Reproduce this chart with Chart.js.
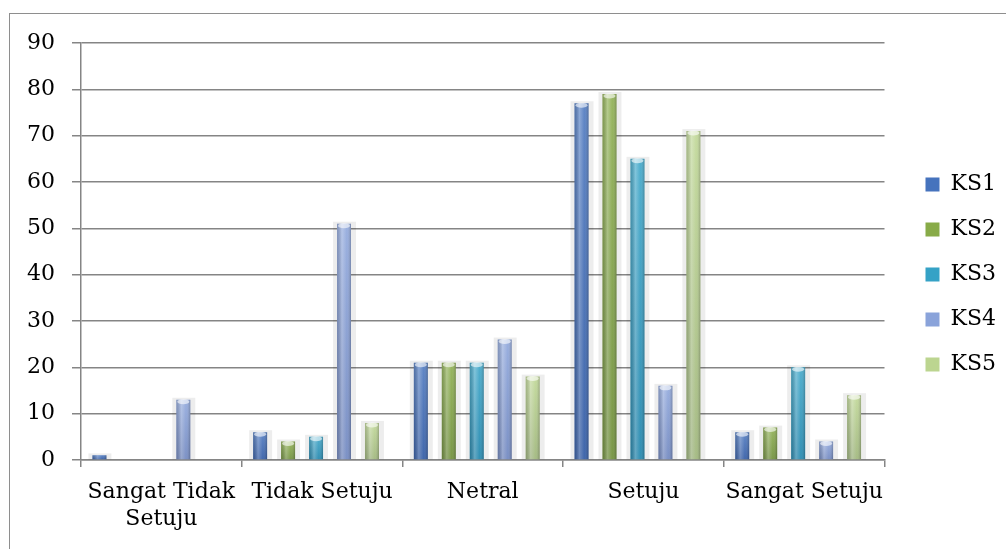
<!DOCTYPE html>
<html>
<head>
<meta charset="utf-8">
<script src="https://cdn.jsdelivr.net/npm/chart.js@4.4.1/dist/chart.umd.min.js"></script>
<style>
  html, body { margin: 0; padding: 0; background: #fff; overflow: hidden; }
  #wrap { position: relative; width: 1006px; height: 549px; }
  #frame { position: absolute; left: 9px; top: 13px; width: 1010px; height: 560px;
           border: 1px solid #8e8e8e; box-sizing: border-box; }
  canvas { position: absolute; left: 0; top: 0; }
</style>
</head>
<body>
<div id="wrap">
  <div id="frame"></div>
  <canvas id="chart" width="1006" height="549"></canvas>
</div>
<script>
// data
const categories = [['Sangat Tidak', 'Setuju'], 'Tidak Setuju', 'Netral', 'Setuju', 'Sangat Setuju'];
const seriesNames = ['KS1', 'KS2', 'KS3', 'KS4', 'KS5'];
const ks1 = [1, 6, 21, 77, 6];
const ks2 = [0, 4, 21, 79, 7];
const ks3 = [0, 5, 21, 65, 20];
const ks4 = [13, 51, 26, 16, 4];
const ks5 = [0, 8, 18, 71, 14];
const yTicks = [0, 10, 20, 30, 40, 50, 60, 70, 80, 90];

const colors = ['#4673bd', '#88ab48', '#35a2c6', '#8aa3da', '#bcd590'];
const FONT = "'DejaVu Serif', serif";
const GRID = '#858585';

// shadow behind bars + cylinder shading on top (bars sit a bit left, like the 3D original)
const cylinder = {
  id: 'cylinder',
  beforeDatasetsDraw(chart) {
    const ctx = chart.ctx;
    ctx.save();
    ctx.translate(-6, 0);
    ctx.save();
    ctx.fillStyle = 'rgba(0,0,0,0.07)';
    chart.data.datasets.forEach((ds, i) => {
      chart.getDatasetMeta(i).data.forEach(bar => {
        if (bar.base - bar.y < 1) return;
        ctx.fillRect(bar.x - bar.width / 2 - 4, bar.y - 2, bar.width + 9, bar.base - bar.y + 2);
      });
    });
    ctx.restore();
  },
  afterDatasetsDraw(chart) {
    const ctx = chart.ctx;
    chart.data.datasets.forEach((ds, i) => {
      chart.getDatasetMeta(i).data.forEach(bar => {
        const h = bar.base - bar.y;
        if (h < 1) return;
        const l = bar.x - bar.width / 2, r = bar.x + bar.width / 2;
        const g = ctx.createLinearGradient(l, 0, r, 0);
        g.addColorStop(0, 'rgba(0,0,0,0.18)');
        g.addColorStop(0.35, 'rgba(255,255,255,0.30)');
        g.addColorStop(0.7, 'rgba(255,255,255,0.02)');
        g.addColorStop(1, 'rgba(0,0,0,0.25)');
        ctx.fillStyle = g;
        ctx.fillRect(l, bar.y, bar.width, h);
        const v = ctx.createLinearGradient(0, bar.y, 0, bar.base);
        v.addColorStop(0, 'rgba(255,255,255,0.12)');
        v.addColorStop(1, 'rgba(0,0,40,0.12)');
        ctx.fillStyle = v;
        ctx.fillRect(l, bar.y, bar.width, h);
        if (h > 5) {
          ctx.fillStyle = 'rgba(255,255,255,0.6)';
          ctx.beginPath();
          ctx.ellipse(bar.x, bar.y + 2, bar.width / 2 - 1, 2.5, 0, 0, Math.PI * 2);
          ctx.fill();
        }
      });
    });
    ctx.restore();
  }
};

const series = [ks1, ks2, ks3, ks4, ks5];

new Chart(document.getElementById('chart').getContext('2d'), {
  type: 'bar',
  data: {
    labels: categories,
    datasets: series.map((vals, i) => ({
      label: seriesNames[i],
      data: vals,
      backgroundColor: colors[i],
      borderWidth: 0,
      barPercentage: 0.5,
      categoryPercentage: 0.87
    }))
  },
  options: {
    responsive: false,
    animation: false,
    layout: { padding: { left: 0, right: 0, top: 0, bottom: 0 } },
    plugins: {
      title: { display: true, text: '', padding: { top: 33, bottom: 0 }, font: { size: 10, lineHeight: 1 } },
      tooltip: { enabled: false },
      legend: {
        position: 'right',
        labels: {
          boxWidth: 14, boxHeight: 14, padding: 23,
          color: '#000', font: { family: FONT, size: 22 }
        }
      }
    },
    scales: {
      x: {
        grid: { drawOnChartArea: false, drawTicks: true, tickLength: 7, color: GRID, lineWidth: 1.5 },
        border: { color: GRID, width: 1.5 },
        ticks: { color: '#000', font: { family: FONT, size: 22, lineHeight: 1.22 }, padding: 12,
                 autoSkip: false, maxRotation: 0 },
        afterFit: s => { s.height = 89; }
      },
      y: {
        min: 0, max: 90,
        afterBuildTicks: s => { s.ticks = yTicks.map(v => ({ value: v })); },
        grid: { color: GRID, lineWidth: 1.5, tickLength: 9 },
        border: { color: GRID, width: 1.5 },
        ticks: { color: '#000', font: { family: FONT, size: 22 }, padding: 17 },
        afterFit: s => { s.width = 81; }
      },
      spacer: {
        type: 'linear', position: 'right', display: true,
        grid: { display: false, drawTicks: false },
        ticks: { display: false },
        border: { display: false },
        afterFit: s => { s.width = 18; }
      }
    }
  },
  plugins: [cylinder]
});
</script>
</body>
</html>
